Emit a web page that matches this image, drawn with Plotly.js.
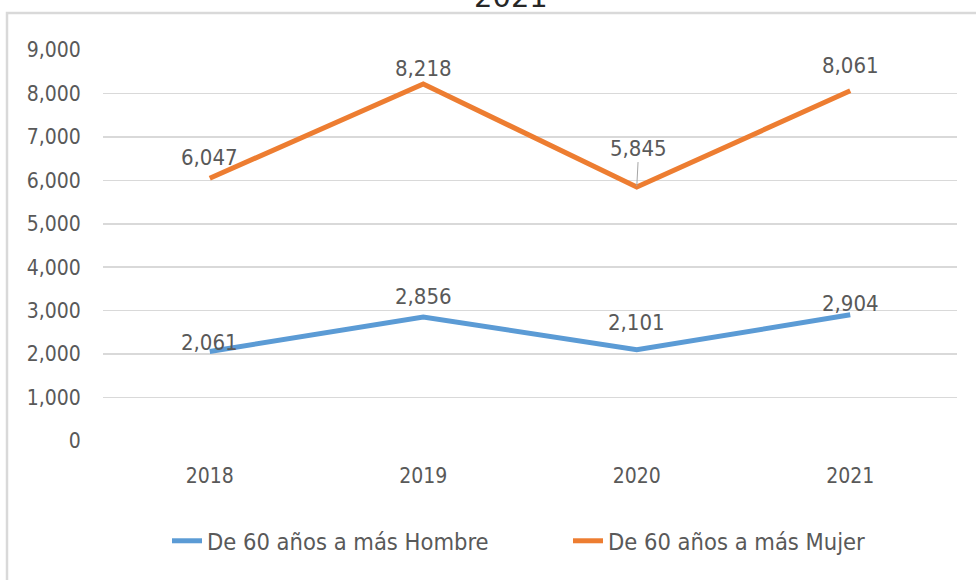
<!DOCTYPE html>
<html>
<head>
<meta charset="utf-8">
<script src="https://cdn.plot.ly/plotly-3.0.1.min.js"></script>
<style>html,body{margin:0;padding:0;background:#fff;}#chart{width:976px;height:580px;}</style>
</head>
<body>
<div id="chart"></div>
<script>
const years = ['2018', '2019', '2020', '2021'];
const hombre = [2061, 2856, 2101, 2904];
const mujer = [6047, 8218, 5845, 8061];
const seriesNames = ['De 60 años a más Hombre', 'De 60 años a más Mujer'];
const yTicks = [0, 1000, 2000, 3000, 4000, 5000, 6000, 7000, 8000, 9000];

const FONT = '"Liberation Sans Narrow", "DejaVu Sans Condensed", "Arial Narrow", sans-serif';
const GRAY = '#595959';
const colors = ['#5B9BD5', '#ED7D31'];

// label vertical offsets (px), styling only
const shiftH = [9, 20, 27, 11];
const shiftM = [21, 15, 0, 25];

const fmt = v => v.toLocaleString('en-US');

const traces = [
  {x: years, y: hombre, name: seriesNames[0], type: 'scatter', mode: 'lines',
   line: {color: colors[0], width: 5}, hoverinfo: 'skip'},
  {x: years, y: mujer, name: seriesNames[1], type: 'scatter', mode: 'lines',
   line: {color: colors[1], width: 5}, hoverinfo: 'skip'}
];

const LBL = {family: FONT, size: 22, color: GRAY};
const annotations = [];
years.forEach((yr, i) => {
  // category index i = position of years[i] on the category axis
  annotations.push({x: i, y: hombre[i], xref: 'x', yref: 'y', text: fmt(hombre[i]),
    showarrow: false, yanchor: 'middle', yshift: shiftH[i], font: LBL});
  if (i === 2) {
    annotations.push({x: i, y: mujer[i], xref: 'x', yref: 'y', text: fmt(mujer[i]),
      showarrow: true, arrowhead: 0, arrowwidth: 1, arrowcolor: '#a6a6a6',
      ax: 2, ay: -39, standoff: 1, font: LBL});
  } else {
    annotations.push({x: i, y: mujer[i], xref: 'x', yref: 'y', text: fmt(mujer[i]),
      showarrow: false, yanchor: 'middle', yshift: shiftM[i], font: LBL});
  }
});

// partially visible chart title
annotations.push({xref: 'paper', yref: 'paper', x: (511 - 103) / 854, y: (441 - 16) / 391,
  xanchor: 'center', yanchor: 'bottom', showarrow: false, text: '2021',
  font: {family: '"DejaVu Sans", sans-serif', size: 29, color: '#262626'}});

const layout = {
  width: 976, height: 580,
  margin: {l: 103, r: 19, t: 50, b: 139, autoexpand: false},
  paper_bgcolor: '#ffffff', plot_bgcolor: '#ffffff',
  showlegend: true,
  legend: {orientation: 'h', x: (167 - 103) / 854, xanchor: 'left', y: (441 - 541) / 391, yanchor: 'middle',
    font: {family: FONT, size: 23.5, color: GRAY}, entrywidth: 356, entrywidthmode: 'pixels', traceorder: 'normal'},
  xaxis: {type: 'category', range: [-0.5, 3.5], showgrid: false, zeroline: false, showline: false,
    ticks: 'outside', ticklen: 16, tickcolor: 'rgba(0,0,0,0)',
    tickfont: {family: FONT, size: 21, color: GRAY}, fixedrange: true},
  yaxis: {range: [0, 9000], tickvals: yTicks, ticktext: yTicks.map(fmt),
    showgrid: true, gridcolor: '#d9d9d9', gridwidth: 1.5, zeroline: false, showline: false,
    ticks: 'outside', ticklen: 17, tickcolor: 'rgba(0,0,0,0)',
    tickfont: {family: FONT, size: 21, color: GRAY}, fixedrange: true},
  shapes: [{type: 'rect', xref: 'paper', yref: 'paper', layer: 'below',
    x0: (7 - 103) / 854, x1: (990 - 103) / 854, y0: (441 - 600) / 391, y1: (441 - 13) / 391,
    line: {color: '#d9d9d9', width: 2.5}, fillcolor: 'rgba(0,0,0,0)'}],
  annotations: annotations
};

Plotly.newPlot('chart', traces, layout, {staticPlot: true, displayModeBar: false});
</script>
</body>
</html>
